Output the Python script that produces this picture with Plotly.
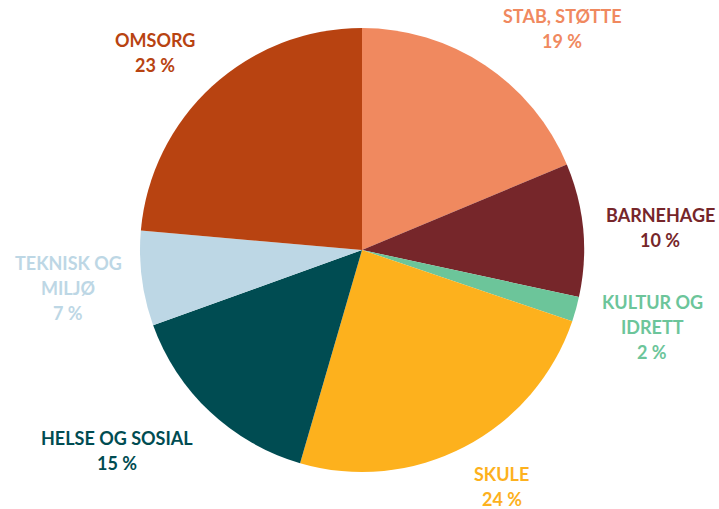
import plotly.graph_objects as go

# sectors, clockwise from 12 o'clock
labels = ["STAB, STØTTE", "BARNEHAGE", "KULTUR OG IDRETT", "SKULE",
          "HELSE OG SOSIAL", "TEKNISK OG MILJØ", "OMSORG"]
values = [18.7, 9.7, 1.8, 24.3, 15.0, 6.9, 23.6]
colors = ["#F0895F", "#76262A", "#6CC59A", "#FDB11D",
          "#004C52", "#BDD7E5", "#B84311"]

# label text lines and placement (pixel centre of first line)
label_lines = [
    ["STAB, STØTTE", "19 %"],
    ["BARNEHAGE", "10 %"],
    ["KULTUR OG", "IDRETT", "2 %"],
    ["SKULE", "24 %"],
    ["HELSE OG SOSIAL", "15 %"],
    ["TEKNISK OG", "MILJØ", "7 %"],
    ["OMSORG", "23 %"],
]
label_pos = [(562, 16), (660, 215), (652, 302), (502, 474),
             (117, 438), (68, 263), (155, 40)]

W, H = 719, 509
cx, cy, r = 362, 250, 222

fig = go.Figure()
fig.add_trace(go.Pie(
    labels=labels, values=values, sort=False, direction="clockwise",
    rotation=0, textinfo="none", hoverinfo="label+percent",
    marker=dict(colors=colors, line=dict(width=0)),
    domain=dict(x=[(cx - r) / W, (cx + r) / W],
                y=[1 - (cy + r) / H, 1 - (cy - r) / H]),
    showlegend=False,
))

for lines, (px, py), col in zip(label_lines, label_pos, colors):
    for i, line in enumerate(lines):
        fig.add_annotation(
            x=px / W, y=1 - (py + i * 25) / H, xref="paper", yref="paper",
            text=f"<b>{line}</b>", showarrow=False,
            font=dict(family="Lato, Open Sans, sans-serif", size=18, color=col),
            xanchor="center", yanchor="middle",
        )

fig.update_layout(
    width=W, height=H, margin=dict(l=0, r=0, t=0, b=0),
    paper_bgcolor="white", plot_bgcolor="white",
)
fig.write_html("out.html", config={"displayModeBar": False},
               post_script="document.body.style.margin='0';")
